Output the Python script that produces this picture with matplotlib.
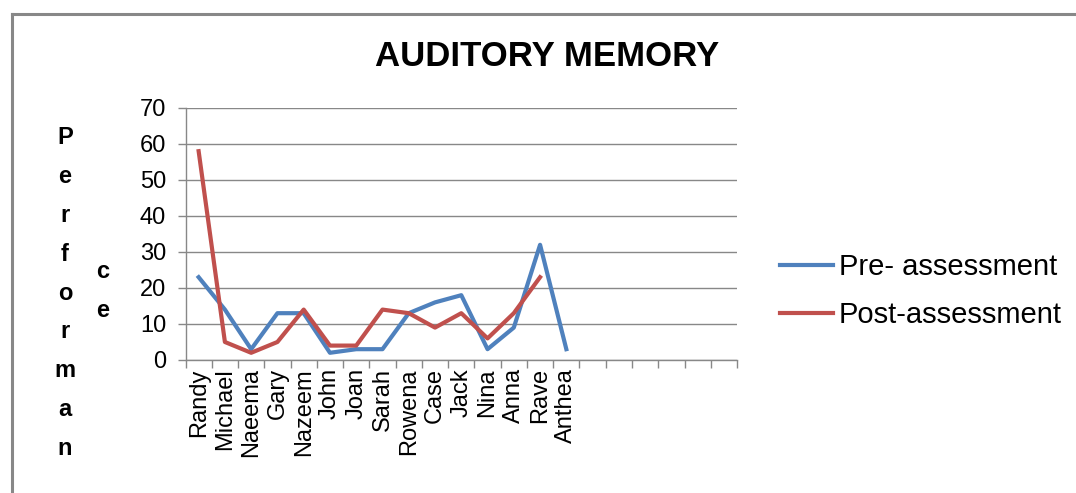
import numpy as np
import matplotlib
matplotlib.use('Agg')
import matplotlib.pyplot as plt
from matplotlib.lines import Line2D

plt.rcParams['font.family'] = ['Liberation Sans', 'DejaVu Sans']

names = ['Randy', 'Michael', 'Naeema', 'Gary', 'Nazeem', 'John', 'Joan', 'Sarah',
         'Rowena', 'Case', 'Jack', 'Nina', 'Anna', 'Rave', 'Anthea',
         '', '', '', '', '', '']
pre = [23, 14, 3, 13, 13, 2, 3, 3, 13, 16, 18, 3, 9, 32, 3]
post = [58, 5, 2, 5, 14, 4, 4, 14, 13, 9, 13, 6, 13, 23]

blue = '#4F81BD'
red = '#C0504D'
grey = '#888888'

fig = plt.figure(figsize=(10.76, 4.93), dpi=100)
ax = fig.add_axes([0.1724, 0.2698, 0.5126, 0.5112])

x = np.arange(len(names))
ax.plot(x[:len(pre)], pre, color=blue, lw=3.0, label='Pre- assessment', solid_joinstyle='round')
ax.plot(x[:len(post)], post, color=red, lw=3.0, label='Post-assessment', solid_joinstyle='round')

ax.set_xlim(-0.5, len(names) - 0.5)
ax.set_ylim(0, 70)
ax.set_yticks(np.arange(0, 71, 10))
ax.yaxis.grid(True, color=grey, lw=1.0)
ax.set_axisbelow(True)

ax.set_xticks(x)
ax.set_xticklabels(names, rotation=90, fontsize=17, va='top')
ax.set_xticks(np.arange(-0.5, len(names), 1), minor=True)
ax.tick_params(axis='x', which='major', length=0, pad=6)
ax.tick_params(axis='x', which='minor', length=6, color=grey, width=1)
ax.tick_params(axis='y', length=6, color=grey, width=1, labelsize=17, pad=8)

for s in ['top', 'right']:
    ax.spines[s].set_visible(False)
for s in ['left', 'bottom']:
    ax.spines[s].set_color(grey)
    ax.spines[s].set_linewidth(1)

fig.text(547 / 1076, 1 - 57 / 493, 'AUDITORY MEMORY', ha='center', va='center',
         fontsize=25, fontweight='bold')

# stacked y label letters
for i, ch in enumerate('Performan'):
    fig.text(65 / 1076, 1 - (138 + i * 38.8) / 493, ch, ha='center', va='center',
             fontsize=17, fontweight='bold')
for i, ch in enumerate('ce'):
    fig.text(103 / 1076, 1 - (272 + i * 38.8) / 493, ch, ha='center', va='center',
             fontsize=17, fontweight='bold')

ax.legend(loc='center left', bbox_to_anchor=(754 / 1076, 1 - 291 / 493),
          bbox_transform=fig.transFigure, frameon=False, fontsize=21,
          handlelength=1.8, handletextpad=0.2, labelspacing=0.7)

# outer frame
fig.add_artist(Line2D([11.5 / 1076, 11.5 / 1076], [0, 1 - 14 / 493], color=grey, lw=2.2,
                      transform=fig.transFigure))
fig.add_artist(Line2D([11.5 / 1076, 1], [1 - 14 / 493, 1 - 14 / 493], color=grey, lw=2.2,
                      transform=fig.transFigure))

fig.savefig('out.png', dpi=100)
